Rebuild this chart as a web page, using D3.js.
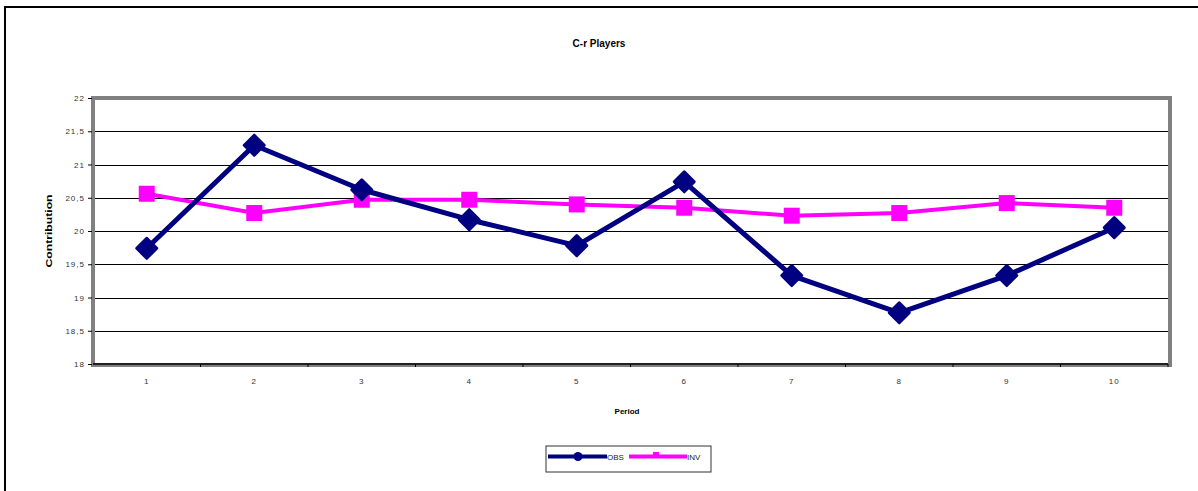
<!DOCTYPE html>
<html>
<head>
<meta charset="utf-8">
<script src="https://cdn.jsdelivr.net/npm/d3@7/dist/d3.min.js"></script>
<style>
  html, body { margin: 0; padding: 0; background: #fff; }
  svg { display: block; font-family: Arial, "Liberation Sans", sans-serif; }
</style>
</head>
<body>
<svg id="chart" width="1198" height="491"></svg>
<script>
// Periods and the two series plotted per period
const periods = [1, 2, 3, 4, 5, 6, 7, 8, 9, 10];
const obsValues = [19.74, 21.29, 20.62, 20.17, 19.78, 20.74, 19.33, 18.77, 19.33, 20.05];
const invValues = [20.56, 20.27, 20.47, 20.47, 20.40, 20.35, 20.23, 20.27, 20.42, 20.35];
const yTicks = [18, 18.5, 19, 19.5, 20, 20.5, 21, 21.5, 22];
const seriesNames = ["OBS", "INV"];

const svg = d3.select("#chart");
const W = 1198, H = 491;
const plot = { left: 93, right: 1168, top: 98, bottom: 364 };

const fmt = v => String(v).replace(".", ",");

// outer chart frame (cropped at the right and bottom)
svg.append("path")
  .attr("d", `M5,${H + 5} L5,7 L${W + 5},7`)
  .attr("fill", "none").attr("stroke", "#000").attr("stroke-width", 2);

const x = d3.scaleBand().domain(periods).range([plot.left, plot.right]);
const y = d3.scaleLinear().domain([18, 22]).range([plot.bottom, plot.top]);

// title
svg.append("text").attr("x", 599).attr("y", 47)
  .attr("text-anchor", "middle").attr("font-size", 10).attr("font-weight", "bold")
  .text("C-r Players");

// horizontal gridlines
svg.append("g").selectAll("line").data(yTicks.filter(t => t > 18 && t < 22)).join("line")
  .attr("x1", plot.left).attr("x2", plot.right)
  .attr("y1", d => Math.round(y(d)) + 0.5).attr("y2", d => Math.round(y(d)) + 0.5)
  .attr("stroke", "#000").attr("stroke-width", 1);

// gray plot-area border
svg.append("rect")
  .attr("x", plot.left).attr("y", plot.top)
  .attr("width", plot.right - plot.left + 2).attr("height", plot.bottom - plot.top + 1)
  .attr("fill", "none").attr("stroke", "#808080").attr("stroke-width", 4);

// y axis
const yAxis = d3.axisLeft(y).tickValues(yTicks).tickFormat(fmt).tickSize(4).tickPadding(3);
const gy = svg.append("g").attr("transform", `translate(${plot.left - 1},0)`).call(yAxis);
gy.select(".domain").remove();
gy.selectAll("line").attr("stroke", "#000");
gy.selectAll("text").attr("font-size", 8).attr("fill", "#333").attr("letter-spacing", 1);

// x axis
const xAxis = d3.axisBottom(x).tickSize(0).tickPadding(14);
const gx = svg.append("g").attr("transform", `translate(0,${plot.bottom})`).call(xAxis);
gx.select(".domain").attr("stroke", "#000").attr("stroke-width", 1.5)
  .attr("d", `M${plot.left},0H${plot.right}`);
gx.selectAll("text").attr("font-size", 8).attr("fill", "#333").attr("letter-spacing", 1);
gx.append("g").selectAll("line").data(periods.slice(1).concat([null])).join("line")
  .attr("x1", d => d === null ? plot.right : x(d))
  .attr("x2", d => d === null ? plot.right : x(d))
  .attr("y1", 0).attr("y2", 3).attr("stroke", "#000");

// axis titles
svg.append("text").attr("x", 627).attr("y", 414)
  .attr("text-anchor", "middle").attr("font-size", 8).attr("font-weight", "bold")
  .text("Period");
svg.append("text")
  .attr("transform", "translate(52,231) rotate(-90)")
  .attr("text-anchor", "middle").attr("font-size", 9).attr("font-weight", "900")
  .attr("textLength", 73).attr("lengthAdjust", "spacingAndGlyphs")
  .text("Contribution");

const cx = d => x(d) + x.bandwidth() / 2;
const line = d3.line().x((d, i) => cx(periods[i])).y(d => y(d));

// INV series (magenta squares)
svg.append("path").datum(invValues).attr("d", line)
  .attr("fill", "none").attr("stroke", "#FF00FF").attr("stroke-width", 4);
svg.append("g").selectAll("rect").data(invValues).join("rect")
  .attr("x", (d, i) => cx(periods[i]) - 8).attr("y", d => y(d) - 8)
  .attr("width", 16).attr("height", 16).attr("fill", "#FF00FF");

// OBS series (navy diamonds)
svg.append("path").datum(obsValues).attr("d", line)
  .attr("fill", "none").attr("stroke", "#000080").attr("stroke-width", 5)
  .attr("stroke-linejoin", "round");
const diamond = "M0,-10 L10,0 L0,10 L-10,0 Z";
svg.append("g").selectAll("path").data(obsValues).join("path")
  .attr("transform", (d, i) => `translate(${cx(periods[i])},${y(d)})`)
  .attr("d", diamond).attr("fill", "#000080")
  .attr("stroke", "#000080").attr("stroke-width", 3).attr("stroke-linejoin", "round");

// legend
const lg = svg.append("g");
lg.append("rect").attr("x", 546).attr("y", 446).attr("width", 165).attr("height", 26)
  .attr("fill", "#fff").attr("stroke", "#333").attr("stroke-width", 1);
lg.append("line").attr("x1", 548).attr("x2", 607).attr("y1", 456.5).attr("y2", 456.5)
  .attr("stroke", "#000080").attr("stroke-width", 4);
lg.append("circle").attr("cx", 578).attr("cy", 456.5).attr("r", 4.5).attr("fill", "#000080");
lg.append("text").attr("x", 607).attr("y", 460).attr("font-size", 8).attr("fill", "#222")
  .text(seriesNames[0]);
lg.append("line").attr("x1", 629).attr("x2", 687).attr("y1", 456.5).attr("y2", 456.5)
  .attr("stroke", "#FF00FF").attr("stroke-width", 4);
lg.append("rect").attr("x", 653).attr("y", 452).attr("width", 6).attr("height", 5).attr("fill", "#FF00FF");
lg.append("text").attr("x", 687).attr("y", 460).attr("font-size", 8).attr("fill", "#222")
  .text(seriesNames[1]);
</script>
</body>
</html>
